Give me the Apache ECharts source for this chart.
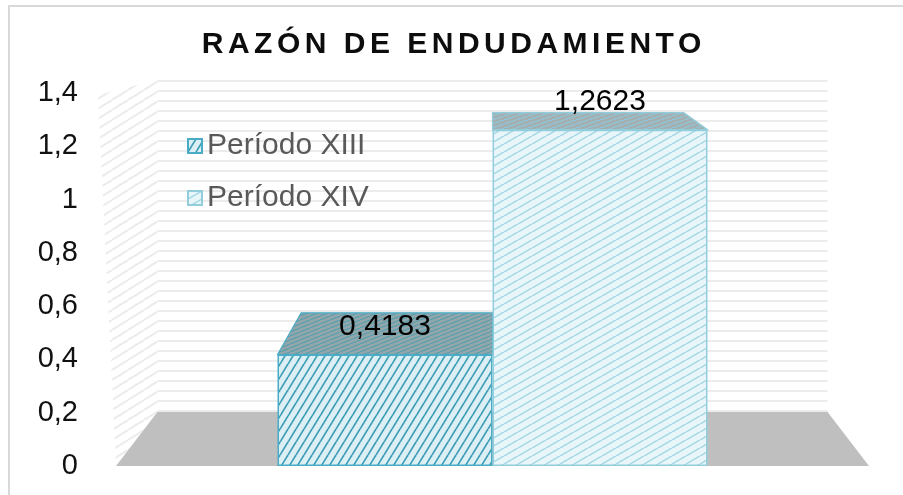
<!DOCTYPE html>
<html>
<head>
<meta charset="utf-8">
<script src="https://cdn.jsdelivr.net/npm/echarts@6/dist/echarts.min.js"></script>
<style>
  body { margin: 0; background: #fff; }
  #wrap { position: relative; width: 903px; height: 495px; }
  #chart { width: 903px; height: 495px; }
  #titulo {
    position: absolute; left: 0; top: 26px; width: 903px; text-align: center;
    font: bold 30px 'Liberation Sans', Arial, sans-serif; letter-spacing: 4.5px;
    padding-left: 4.5px; box-sizing: border-box;
    color: #0d0d0d; pointer-events: none; z-index: 2;
  }
</style>
</head>
<body>
<div id="wrap">
  <div id="titulo">RAZÓN DE ENDUDAMIENTO</div>
  <div id="chart"></div>
</div>
<script>
// datos
const categorias = ['Razón de endeudamiento']
const periodos = ['Período XIII', 'Período XIV']
const valoresXIII = [0.4183]
const valoresXIV = [1.2623]
const ticksY = [0, 0.2, 0.4, 0.6, 0.8, 1, 1.2, 1.4]

const BAR_W = 215
const FONDO_K = 0.11      // profundidad de la perspectiva
const FUGA_Y = -25        // punto de fuga (y)

// tramas
const trama = (w, h, bg, fg, lw) => {
  const c = document.createElement('canvas')
  c.width = w; c.height = h
  const g = c.getContext('2d')
  g.fillStyle = bg; g.fillRect(0, 0, w, h)
  g.strokeStyle = fg; g.lineWidth = lw
  for (const dx of [-w, 0, w]) {
    g.beginPath(); g.moveTo(dx, h); g.lineTo(dx + w, 0); g.stroke()
  }
  return { image: c, repeat: 'repeat' }
}
const rayas = (h, bg, fg, lw) => {
  const c = document.createElement('canvas')
  c.width = 4; c.height = h
  const g = c.getContext('2d')
  g.fillStyle = bg; g.fillRect(0, 0, 4, h)
  g.fillStyle = fg; g.fillRect(0, 0, 4, lw)
  return { image: c, repeat: 'repeat' }
}

const tramaXIII = trama(8, 13, '#dbeff4', '#3d9db6', 1.7)
const tramaXIV = trama(14, 8, '#e8f6fa', '#a3d6e5', 1.5)
const techoXIII = trama(10, 4, '#93a6aa', '#5b9fb0', 1.2)
const techoXIV = trama(12, 4, '#a5aeb0', '#8fc6d6', 1.2)
const paredFondo = rayas(10, '#ffffff', '#ececec', 2)
const paredLado = trama(16, 10, '#ffffff', '#ececec', 2)

const fmt = v => String(+v.toFixed(4)).replace('.', ',')

const chart = echarts.init(document.getElementById('chart'))

const atras = (p, cs) => {
  const vx = cs.x + cs.width / 2
  return [p[0] + (vx - p[0]) * FONDO_K, p[1] + (FUGA_Y - p[1]) * FONDO_K]
}

const option = {
  animation: false,
  textStyle: { fontFamily: "'Liberation Sans', Arial, sans-serif" },
  graphic: [{
    type: 'rect', shape: { x: 9, y: 6, width: 910, height: 510 },
    style: { fill: 'none', stroke: '#d9d9d9', lineWidth: 2 }, silent: true
  }],
  grid: { left: 116, right: 34, top: 93, bottom: 29 },
  legend: {
    data: periodos,
    orient: 'vertical',
    left: 182, top: 125,
    itemWidth: 14, itemHeight: 14, itemGap: 20,
    icon: 'rect',
    textStyle: { fontSize: 30, color: '#595959', lineHeight: 32 }
  },
  xAxis: {
    type: 'category', data: categorias,
    axisLine: { show: false }, axisTick: { show: false }, axisLabel: { show: false }
  },
  yAxis: {
    type: 'value', min: ticksY[0], max: ticksY[ticksY.length - 1], interval: 0.2,
    splitLine: { show: false }, axisLine: { show: false }, axisTick: { show: false },
    axisLabel: { fontSize: 29, color: '#111', margin: 38, formatter: fmt }
  },
  series: [
    {
      name: 'fondo', type: 'custom', z: 1, silent: true,
      data: [[0, 0]],
      renderItem: (params, api) => {
        const cs = params.coordSys
        const y0 = api.coord([0, ticksY[0]])[1]
        const y1 = api.coord([0, ticksY[ticksY.length - 1]])[1]
        const xl = cs.x, xr = cs.x + cs.width
        const fl = [xl, y0], fr = [xr, y0], tl = [xl, y1], tr = [xr, y1]
        const bfl = atras(fl, cs), bfr = atras(fr, cs), btl = atras(tl, cs), btr = atras(tr, cs)
        return {
          type: 'group',
          children: [
            { type: 'polygon', shape: { points: [btl, btr, bfr, bfl] }, style: { fill: paredFondo } },
            { type: 'polygon', shape: { points: [[xl - 18, y1 + 2], btl, bfl, [xl, y0]] }, style: { fill: paredLado } },
            { type: 'polygon', shape: { points: [fl, fr, bfr, bfl] }, style: { fill: '#bfbfbf' } }
          ]
        }
      }
    },
    {
      name: periodos[0], type: 'bar', z: 4,
      data: valoresXIII, barWidth: BAR_W, barGap: '0%',
      itemStyle: { color: tramaXIII, borderColor: '#4bacc6', borderWidth: 1.5 },
      label: { show: true, position: 'top', distance: 13, fontSize: 30, color: '#000', formatter: p => fmt(p.value) }
    },
    {
      name: periodos[1], type: 'bar', z: 4,
      data: valoresXIV, barWidth: BAR_W, barGap: '0%',
      itemStyle: { color: tramaXIV, borderColor: '#92cddc', borderWidth: 1.5 },
      label: { show: true, position: 'top', distance: 13, fontSize: 30, color: '#000', formatter: p => fmt(p.value) }
    },
    {
      name: 'techos', type: 'custom', z: 3, silent: true,
      data: [[0, valoresXIII[0], 0], [0, valoresXIV[0], 1]],
      renderItem: (params, api) => {
        const cs = params.coordSys
        const p = api.coord([api.value(0), api.value(1)])
        const lado = api.value(2)
        const x0 = p[0] - BAR_W + lado * BAR_W, x1 = x0 + BAR_W
        const a = [x0, p[1]], b = [x1, p[1]]
        return {
          type: 'polygon',
          shape: { points: [a, b, atras(b, cs), atras(a, cs)] },
          style: {
            fill: lado ? techoXIV : techoXIII,
            stroke: lado ? '#92cddc' : '#4bacc6', lineWidth: 1.2
          }
        }
      }
    }
  ]
}

chart.setOption(option)
window.addEventListener('resize', () => chart.resize())
</script>
</body>
</html>
